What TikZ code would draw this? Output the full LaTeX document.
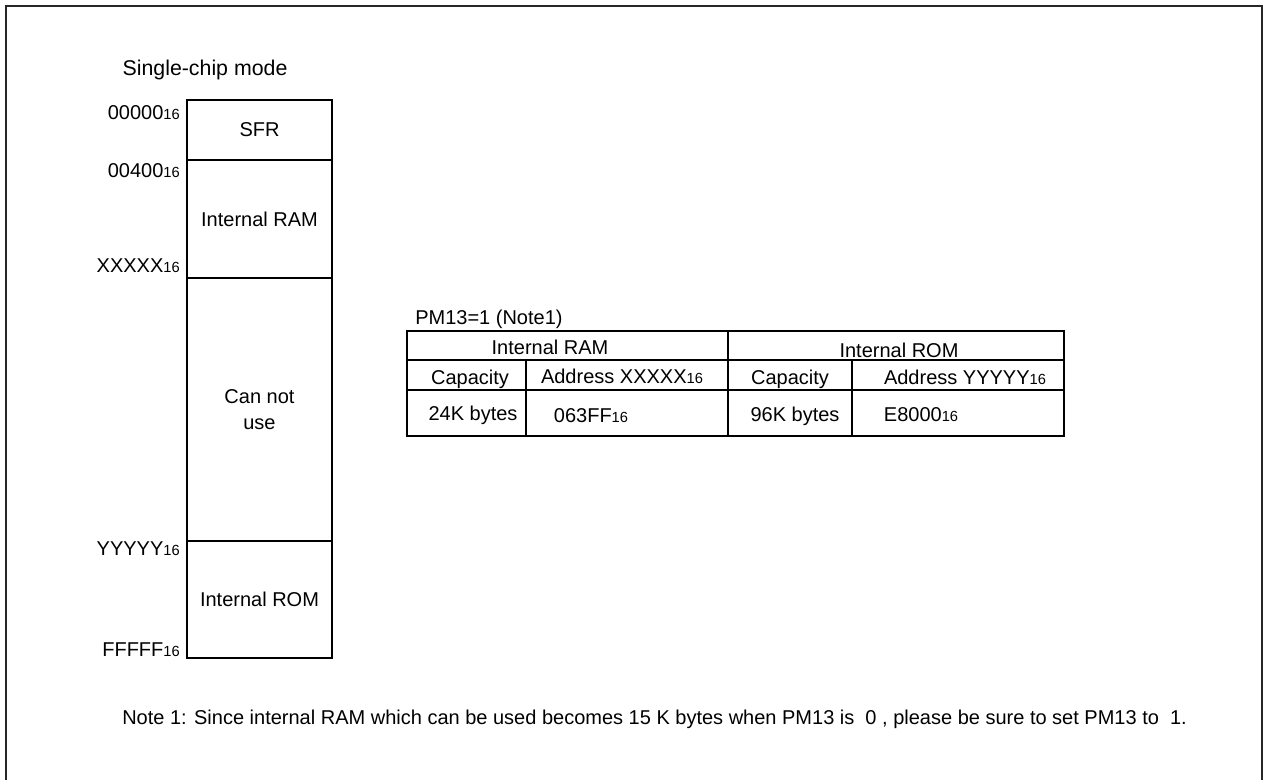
\documentclass[tikz,border=0pt]{standalone}
\usepackage{fontspec}
\setmainfont{Liberation Sans}
\usetikzlibrary{positioning}
\newcommand{\hexa}[1]{#1{\fontsize{11}{11}\selectfont 16}}

\begin{document}
\begin{tikzpicture}[
    x=0.75pt, y=-0.75pt,
    lbl/.style={font=\fontsize{15}{19.5}\selectfont, inner sep=0pt},
    cell/.style={lbl, anchor=base},
    addr/.style={lbl, anchor=base east},
    memblk/.style={draw, line width=0.8pt, minimum width=108.75pt, inner sep=0pt, align=center, font=\fontsize{15}{19.5}\selectfont},
    grid/.style={line width=0.8pt},
    frame/.style={line width=1.6pt, draw=black!85}
]
\useasboundingbox (0,0) rectangle (1264,780);

% Outer frame
\draw[frame] (6,800) -- (6,6) -- (1262,6) -- (1262,800);

% Title
\node[font=\fontsize{16}{18}\selectfont, inner sep=0pt] (title) at (205,70) {Single-chip mode};

% Memory map
\node[memblk, minimum height=45pt] (sfr) at (259.5,130) {SFR};
\node[memblk, minimum height=88.5pt] (ram) at (259.5,219) {Internal RAM};
\node[memblk, minimum height=197.25pt] (cnu) at (259.5,409.5) {Can not\\use};
\node[memblk, minimum height=87.75pt] (rom) at (259.5,599.5) {Internal ROM};

% Addresses
\node[addr] (a0) at (180,119.5) {\hexa{00000}};
\node[addr] (a1) at (180,177.5) {\hexa{00400}};
\node[addr] (a2) at (180,272.5) {\hexa{XXXXX}};
\node[addr] (a3) at (180,555) {\hexa{YYYYY}};
\node[addr] (a4) at (180,656) {\hexa{FFFFF}};

% Table
\node[lbl, anchor=base west] (pm) at (415,325) {PM13=1 (Note1)};
\draw[grid] (407,331) rectangle (1064,436);
\draw[grid] (407,360) -- (1064,360);
\draw[grid] (407,390) -- (1064,390);
\draw[grid] (728,331) -- (728,436);
\draw[grid] (526,360) -- (526,436);
\draw[grid] (852,360) -- (852,436);

\node[cell] (hram) at (550,355) {Internal RAM};
\node[cell] (hrom) at (899,358) {Internal ROM};
\node[cell] (c1) at (470,384.5) {Capacity};
\node[cell] (d1) at (622,384) {Address \hexa{XXXXX}};
\node[cell] (c2) at (790,384.5) {Capacity};
\node[cell] (d2) at (965,384.5) {Address \hexa{YYYYY}};
\node[cell] (v1) at (473,421) {24K bytes};
\node[cell] (v2) at (591,423) {\hexa{063FF}};
\node[cell] (v3) at (795,421.5) {96K bytes};
\node[cell] (v4) at (921,422) {\hexa{E8000}};

% Note
\node[lbl, anchor=west] (note) at (122,719) {Note 1: Since internal RAM which can be used becomes 15 K bytes when PM13 is\ \ 0 , please be sure to set PM13 to\ \ 1.};

\end{tikzpicture}
\end{document}
